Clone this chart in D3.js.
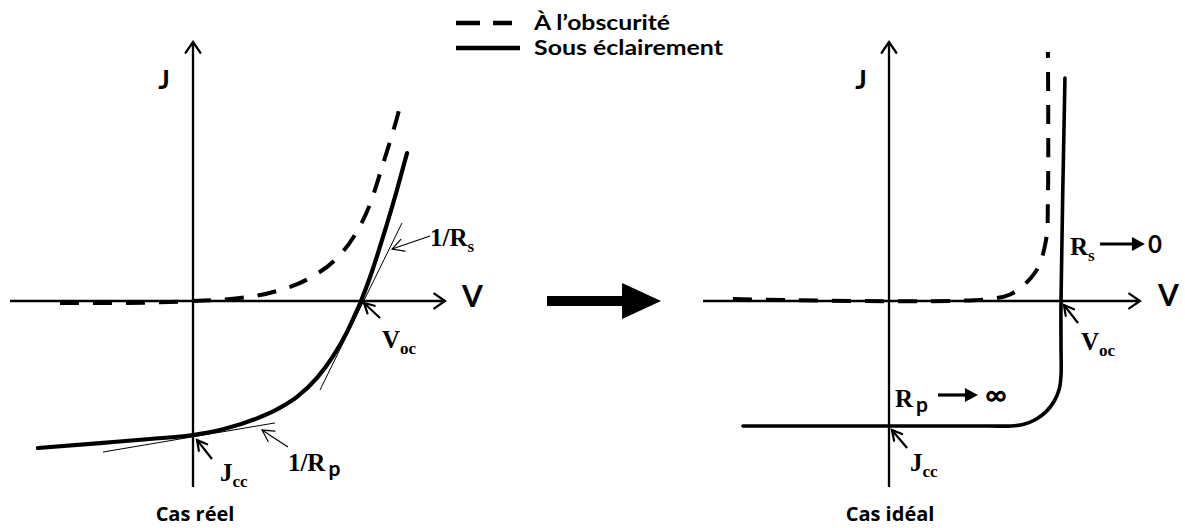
<!DOCTYPE html>
<html>
<head>
<meta charset="utf-8">
<script src="https://cdn.jsdelivr.net/npm/d3@7"></script>
<style>
  html, body { margin: 0; padding: 0; background: #fff; }
  svg { display: block; }
</style>
</head>
<body>
<svg id="chart" width="1185" height="528"></svg>
<script>
// ---------- DATA (V, J in normalised units: Voc = 1, Jcc = -1) ----------
// Left panel : "Cas réel"
const realDark  = [[-0.792,-0.015],[-0.435,-0.015],[-0.137,-0.007],[0,0],[0.280,0.022],[0.5,0.075],[0.696,0.172],[0.857,0.321],[0.952,0.470],[1.054,0.724],[1.131,1.022],[1.214,1.366],[1.244,1.507]];
const realLight = [[-0.923,-1.097],[-0.554,-1.060],[-0.256,-1.030],[0,-1.0],[0.179,-0.957],[0.381,-0.876],[0.5,-0.809],[0.619,-0.716],[0.738,-0.574],[0.833,-0.413],[0.917,-0.230],[0.964,-0.104],[1.0,0],[1.054,0.179],[1.131,0.478],[1.214,0.828],[1.274,1.104]];
const realTangents = [[[1.244,0.582],[0.756,-0.664]], [[-0.536,-1.127],[0.488,-0.910]]];
const realAxisV = [-1.089, 1.5];
const realAxisJ = [-1.388, 1.933];

// Right panel : "Cas idéal"
const idealDark  = [[-0.907,0.016],[0.587,0.016],[0.721,0.064],[0.855,0.240],[0.913,0.488],[0.924,0.808],[0.924,1.992]];
const idealLight = [[-0.849,-1.0],[0.58,-1.0],[0.709,-1.0],[0.784,-0.986],[0.855,-0.946],[0.915,-0.883],[0.961,-0.8],[0.990,-0.703],[1.0,-0.6],[1.0,-0.35],[1.0,0],[1.023,1.784]];
const idealAxisV = [-1.081, 1.459];
const idealAxisJ = [-1.488, 2.072];

// Annotations: label text, subscript, label position, arrow from -> to
const realNotes = [
  {main:"1/R", sub:"s",  subStyle:"sub",  at:[1.411,0.410],  from:[1.411,0.485], to:[1.185,0.388], thick:false},
  {main:"V",   sub:"oc", subStyle:"sub",  at:[1.125,-0.351], from:[1.113,-0.127], to:[1.018,-0.015], thick:true},
  {main:"J",   sub:"cc", subStyle:"sub",  at:[0.161,-1.343], from:[0.113,-1.179], to:[0.024,-1.037], thick:true},
  {main:"1/R", sub:"p",  subStyle:"sans", at:[0.565,-1.269], from:[0.565,-1.090], to:[0.411,-0.963], thick:false}
];
const idealNotes = [
  {main:"V", sub:"oc", subStyle:"sub", at:[1.116,-0.392], from:[1.099,-0.176], to:[1.017,-0.032], thick:true},
  {main:"J", sub:"cc", subStyle:"sub", at:[0.122,-1.360], from:[0.105,-1.176], to:[0.017,-1.032], thick:true}
];
const idealLimits = [
  {main:"R", sub:"s", subStyle:"sub",  at:[1.052,0.368],  from:[1.227,0.456],  to:[1.488,0.456],  value:"0", valueAt:[1.506,0.384]},
  {main:"R", sub:"p", subStyle:"sans", at:[0.035,-0.848], from:[0.285,-0.752], to:[0.517,-0.752], value:"∞", valueAt:[0.558,-0.832]}
];

const axisLabels = ["J", "V"];
const captions = ["Cas réel", "Cas idéal"];
const legendLabels = ["À l’obscurité", "Sous éclairement"];
const bigArrowV = [2.107, 2.786]; // transition arrow (left panel units)

// ---------- SCALES ----------
const xL = d3.scaleLinear().domain([0,1]).range([193,361]);
const yL = d3.scaleLinear().domain([0,-1]).range([301,435]);
const xR = d3.scaleLinear().domain([0,1]).range([889,1061]);
const yR = d3.scaleLinear().domain([0,-1]).range([301,426]);

const svg = d3.select("#chart");
const ink = "#000";
const serif = "'Liberation Serif', 'DejaVu Serif', serif";
const sans = "Lato, 'Open Sans', sans-serif";
const sans2 = "'Open Sans', Lato, sans-serif";

function openHead(g, x, y, ang, len, spread, w) {
  const a1 = ang + Math.PI - spread, a2 = ang + Math.PI + spread;
  g.append("path")
    .attr("d", `M${x + len*Math.cos(a1)},${y + len*Math.sin(a1)}L${x},${y}L${x + len*Math.cos(a2)},${y + len*Math.sin(a2)}`)
    .attr("fill","none").attr("stroke",ink).attr("stroke-width",w)
    .attr("stroke-linejoin","miter").attr("stroke-linecap","round");
}
function filledHead(g, x, y, ang, len, half) {
  const bx = x - len*Math.cos(ang), by = y - len*Math.sin(ang);
  const nx = -Math.sin(ang), ny = Math.cos(ang);
  g.append("path")
    .attr("d", `M${x},${y}L${bx + half*nx},${by + half*ny}L${bx - half*nx},${by - half*ny}Z`)
    .attr("fill", ink);
}
function labelText(g, x, y, d, size, subSize) {
  const t = g.append("text").attr("x", x).attr("y", y)
    .attr("font-family", serif).attr("font-weight","bold")
    .attr("font-size", size).attr("fill", ink);
  t.append("tspan").text(d.main);
  if (d.subStyle === "sans") {
    t.append("tspan").attr("dx", 3).attr("dy", 5).attr("font-family", sans)
      .attr("font-size", subSize + 4).text(d.sub);
  } else {
    t.append("tspan").attr("dy", 6).attr("font-size", subSize).text(d.sub);
  }
  return t;
}

function drawPanel(x, y, axV, axJ, dark, light, lineW, curve, jLabelAt, vLabelAt, caption, captionAt) {
  const g = svg.append("g");
  // axes
  g.append("line").attr("x1", x(axV[0])).attr("x2", x(axV[1])).attr("y1", y(0)).attr("y2", y(0))
    .attr("stroke", ink).attr("stroke-width", 2.3);
  openHead(g, x(axV[1]), y(0), 0, 13, 0.6, 2.3);
  g.append("line").attr("x1", x(0)).attr("x2", x(0)).attr("y1", y(axJ[0])).attr("y2", y(axJ[1]))
    .attr("stroke", ink).attr("stroke-width", 2.3);
  openHead(g, x(0), y(axJ[1]), -Math.PI/2, 13, 0.6, 2.3);

  const line = d3.line().x(d => x(d[0])).y(d => y(d[1])).curve(curve);
  g.append("path").attr("d", line(dark)).attr("fill","none").attr("stroke",ink)
    .attr("stroke-width", 4).attr("stroke-dasharray","19,14");
  g.append("path").attr("d", line(light)).attr("fill","none").attr("stroke",ink)
    .attr("stroke-width", lineW).attr("stroke-linecap","round");

  g.append("text").attr("x", x(jLabelAt[0])).attr("y", y(jLabelAt[1])).attr("text-anchor","middle")
    .attr("font-family", sans).attr("font-weight","bold").attr("font-size", 27).attr("fill", ink).text(axisLabels[0]);
  g.append("text").attr("x", x(vLabelAt[0])).attr("y", y(vLabelAt[1]))
    .attr("font-family", sans).attr("font-weight","bold").attr("font-size", 30).attr("fill", ink).text(axisLabels[1]);
  g.append("text").attr("x", x(captionAt[0])).attr("y", y(captionAt[1])).attr("text-anchor","middle")
    .attr("font-family", sans2).attr("font-weight","bold").attr("font-size", 20).attr("fill", ink).text(caption);
  return g;
}

// Left panel
const gL = drawPanel(xL, yL, realAxisV, realAxisJ, realDark, realLight, 4.2, d3.curveMonotoneX, [-0.173,1.582], [1.601,-0.045], captions[0], [0.012,-1.642]);
realTangents.forEach(t => {
  gL.append("line").attr("x1", xL(t[0][0])).attr("y1", yL(t[0][1])).attr("x2", xL(t[1][0])).attr("y2", yL(t[1][1]))
    .attr("stroke", ink).attr("stroke-width", 1);
});
realNotes.forEach(n => {
  const fx = xL(n.from[0]), fy = yL(n.from[1]), tx = xL(n.to[0]), ty = yL(n.to[1]);
  const w = n.thick ? 2.2 : 1.2;
  gL.append("line").attr("x1", fx).attr("y1", fy).attr("x2", tx).attr("y2", ty).attr("stroke", ink).attr("stroke-width", w);
  openHead(gL, tx, ty, Math.atan2(ty - fy, tx - fx), n.thick ? 11 : 13, 0.5, w);
  labelText(gL, xL(n.at[0]), yL(n.at[1]), n, 25, 17);
});

// Right panel
const gR = drawPanel(xR, yR, idealAxisV, idealAxisJ, idealDark, idealLight, 3.6, d3.curveCatmullRom.alpha(0.5), [-0.163,1.696], [1.564,-0.04], captions[1], [0.006,-1.76]);
idealNotes.forEach(n => {
  const fx = xR(n.from[0]), fy = yR(n.from[1]), tx = xR(n.to[0]), ty = yR(n.to[1]);
  gR.append("line").attr("x1", fx).attr("y1", fy).attr("x2", tx).attr("y2", ty).attr("stroke", ink).attr("stroke-width", 2.2);
  openHead(gR, tx, ty, Math.atan2(ty - fy, tx - fx), 11, 0.5, 2.2);
  labelText(gR, xR(n.at[0]), yR(n.at[1]), n, 25, 17);
});
idealLimits.forEach(n => {
  const fx = xR(n.from[0]), fy = yR(n.from[1]), tx = xR(n.to[0]), ty = yR(n.to[1]);
  gR.append("line").attr("x1", fx).attr("y1", fy).attr("x2", tx - 8).attr("y2", ty).attr("stroke", ink).attr("stroke-width", 3.2);
  filledHead(gR, tx, ty, 0, 13, 7);
  labelText(gR, xR(n.at[0]), yR(n.at[1]), n, 25, 17);
  gR.append("text").attr("x", xR(n.valueAt[0])).attr("y", yR(n.valueAt[1]))
    .attr("font-family", sans).attr("font-weight","bold").attr("font-size", n.value === "∞" ? 30 : 24)
    .attr("fill", ink).text(n.value);
});

// Transition arrow
{
  const x0 = xL(bigArrowV[0]), x1 = xL(bigArrowV[1]), yc = yL(0);
  const headLen = 39, shaftH = 5, headH = 18;
  svg.append("path")
    .attr("d", `M${x0},${yc-shaftH}L${x1-headLen},${yc-shaftH}L${x1-headLen},${yc-headH}L${x1},${yc}L${x1-headLen},${yc+headH}L${x1-headLen},${yc+shaftH}L${x0},${yc+shaftH}Z`)
    .attr("fill", ink);
}

// Legend
{
  const lg = svg.append("g").attr("transform","translate(456,0)");
  lg.append("line").attr("x1",0).attr("x2",56).attr("y1",23).attr("y2",23)
    .attr("stroke",ink).attr("stroke-width",4.5).attr("stroke-dasharray","24,13");
  lg.append("line").attr("x1",0).attr("x2",64).attr("y1",48).attr("y2",48)
    .attr("stroke",ink).attr("stroke-width",4.5);
  const widths = [136, 189];
  lg.selectAll("text.leg").data(legendLabels).join("text").attr("class","leg")
    .attr("x", 78).attr("y", (d,i) => 30 + i*25)
    .attr("font-family", sans).attr("font-weight","bold").attr("font-size", 20)
    .attr("textLength", (d,i) => widths[i]).attr("lengthAdjust","spacingAndGlyphs")
    .attr("fill", ink).text(d => d);
}
</script>
</body>
</html>
